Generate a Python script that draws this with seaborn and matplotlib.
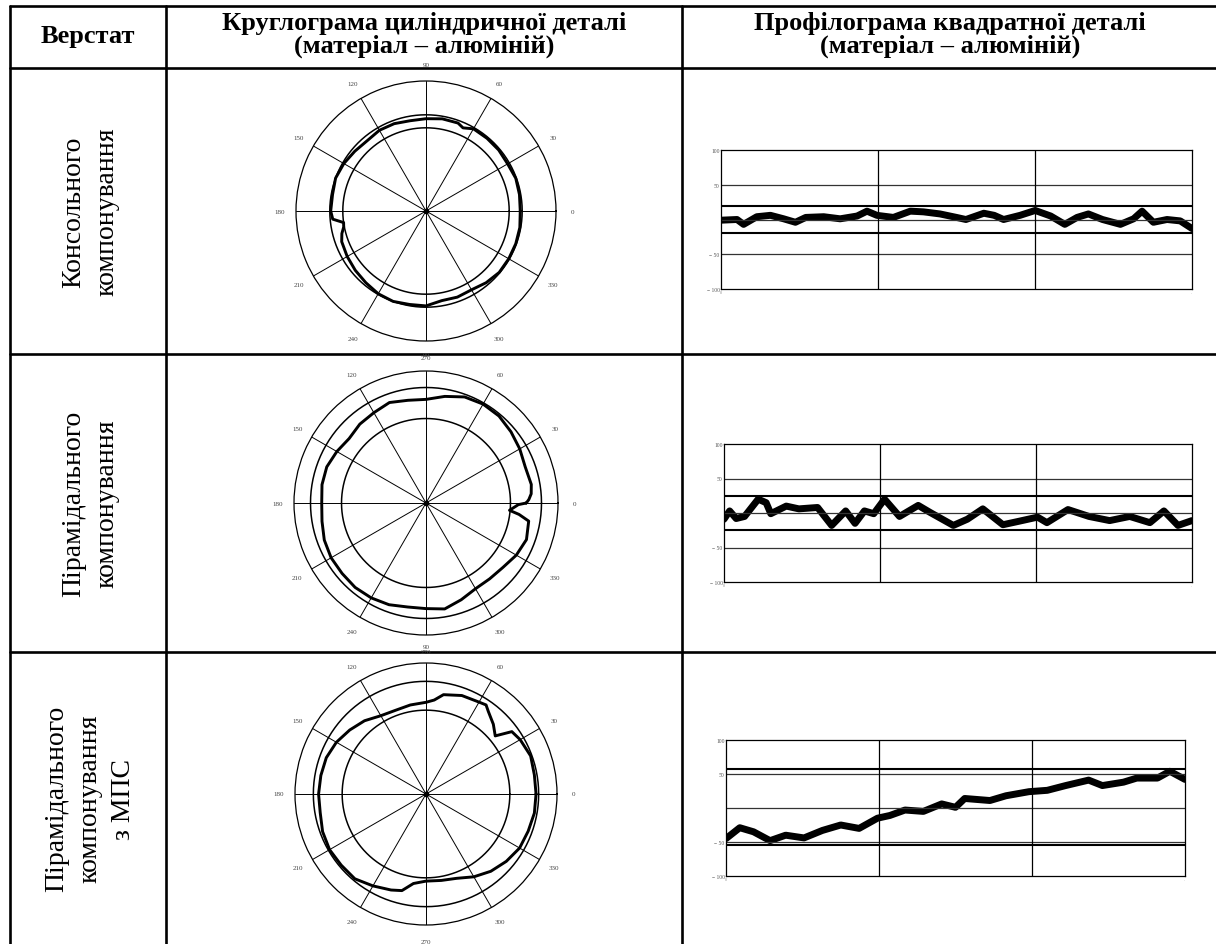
import numpy as np
import pandas as pd
import seaborn as sns
import matplotlib.pyplot as plt

sns.set_theme(style='white')
plt.rcParams['font.family'] = ['Liberation Serif', 'DejaVu Serif']
plt.rcParams['text.color'] = 'black'

W, H = 1216, 945

# header and row labels
header_machine = 'Верстат'
header_round = 'Круглограма циліндричної деталі\n(матеріал – алюміній)'
header_profile = 'Профілограма квадратної деталі\n(матеріал – алюміній)'
machines = ['Консольного\nкомпонування',
            'Пірамідального\nкомпонування',
            'Пірамідального\nкомпонування\nз МПС']

# roundness traces: angle (deg) and radius relative to the outer circle
round1_deg = [0, 10, 20, 30, 40, 50, 60, 66, 70, 80, 90, 100, 110, 120, 130, 140,
              150, 160, 170, 180, 185, 188, 191, 195, 200, 210, 220, 230, 240, 250,
              260, 270, 280, 290, 300, 310, 320, 330, 340, 350, 360]
round1_r = [0.725, 0.73, 0.735, 0.725, 0.73, 0.73, 0.73, 0.70, 0.72, 0.72, 0.71, 0.705,
            0.715, 0.717, 0.705, 0.715, 0.73, 0.74, 0.73, 0.733, 0.72, 0.64, 0.645,
            0.67, 0.69, 0.70, 0.71, 0.72, 0.735, 0.74, 0.73, 0.73, 0.70, 0.705, 0.70,
            0.72, 0.735, 0.735, 0.735, 0.733, 0.725]

round2_deg = [0, 2, 5, 10, 20, 30, 40, 50, 60, 70, 80, 90, 100, 110, 120, 130, 140,
              150, 160, 170, 180, 190, 200, 210, 220, 230, 240, 250, 260, 270, 280,
              290, 300, 310, 320, 330, 340, 350, 353, 355, 359, 360]
round2_r = [0.76, 0.78, 0.80, 0.81, 0.80, 0.82, 0.84, 0.86, 0.865, 0.855, 0.82, 0.785,
            0.79, 0.81, 0.79, 0.78, 0.76, 0.78, 0.80, 0.80, 0.79, 0.80, 0.82, 0.83,
            0.83, 0.835, 0.83, 0.82, 0.80, 0.80, 0.815, 0.78, 0.75, 0.75, 0.76, 0.79,
            0.81, 0.79, 0.71, 0.635, 0.70, 0.76]

round3_deg = [0, 10, 20, 30, 36, 40, 46, 53, 56, 60, 70, 80, 85, 90, 100, 110, 120,
              130, 140, 150, 160, 170, 180, 190, 200, 210, 220, 230, 240, 250, 256,
              262, 270, 280, 290, 300, 310, 320, 330, 340, 350, 360]
round3_r = [0.84, 0.84, 0.85, 0.83, 0.81, 0.69, 0.74, 0.79, 0.82, 0.81, 0.80, 0.77,
            0.72, 0.70, 0.69, 0.68, 0.69, 0.73, 0.76, 0.79, 0.81, 0.815, 0.82, 0.82,
            0.84, 0.85, 0.845, 0.845, 0.81, 0.78, 0.76, 0.69, 0.665, 0.67, 0.685,
            0.73, 0.77, 0.80, 0.825, 0.83, 0.84, 0.84]

# inscribed / circumscribed circles
round_inner = [0.64, 0.64, 0.64]
round_outer = [0.74, 0.875, 0.86]

# profile traces: relative position along the part and deviation
prof1_x = [0, 0.034, 0.048, 0.076, 0.105, 0.133, 0.158, 0.18, 0.218, 0.253, 0.289,
           0.31, 0.331, 0.366, 0.402, 0.43, 0.465, 0.5, 0.52, 0.558, 0.58, 0.6,
           0.635, 0.667, 0.7, 0.73, 0.756, 0.78, 0.81, 0.848, 0.876, 0.894, 0.918,
           0.947, 0.975, 1.0]
prof1_y = [-1, 0, -7, 4, 6, 1, -4, 3, 4, 1, 5, 12, 6, 3, 12, 11, 8, 3, 0, 9, 6, 0,
           6, 13, 5, -7, 3, 8, 0, -7, 1, 12, -4, 0, -2, -13]

prof2_x = [0, 0.012, 0.026, 0.044, 0.073, 0.09, 0.10, 0.133, 0.16, 0.2, 0.23, 0.26,
           0.28, 0.30, 0.32, 0.343, 0.375, 0.415, 0.44, 0.49, 0.52, 0.553, 0.596,
           0.63, 0.67, 0.69, 0.735, 0.78, 0.824, 0.867, 0.91, 0.94, 0.97, 1.0]
prof2_y = [-9, 3, -8, -5, 20, 15, -1, 10, 6, 8, -18, 3, -15, 3, -1, 20, -5, 11, 1,
           -18, -9, 6, -17, -12, -6, -14, 5, -5, -11, -5, -14, 3, -18, -11]

prof3_x = [0, 0.03, 0.06, 0.096, 0.13, 0.17, 0.21, 0.25, 0.29, 0.33, 0.357, 0.39,
           0.43, 0.47, 0.50, 0.52, 0.575, 0.61, 0.66, 0.70, 0.74, 0.79, 0.82, 0.866,
           0.895, 0.94, 0.967, 1.0]
prof3_y = [-45, -29, -35, -48, -40, -44, -33, -25, -30, -15, -11, -3, -5, 6, 1, 14,
           11, 18, 24, 26, 33, 41, 33, 38, 44, 44, 54, 42]

prof_limits = [(20, -20), (25, -25), (57, -55)]

rounds = [(round1_deg, round1_r), (round2_deg, round2_r), (round3_deg, round3_r)]
profiles = [(prof1_x, prof1_y), (prof2_x, prof2_y), (prof3_x, prof3_y)]

# layout in pixels
row_lines = [69, 355, 653]
row_centers = [212, 504, 799]
polar_boxes = [(426, 212, 130), (426, 504, 132), (426, 795, 131)]
prof_boxes = [(721, 151, 1192, 290), (724, 445, 1192, 583), (726, 741, 1185, 877)]


def px_rect(left, top, right, bottom):
    return [left / W, 1 - bottom / H, (right - left) / W, (bottom - top) / H]


fig = plt.figure(figsize=(W / 100, H / 100), dpi=100)
fig.patch.set_facecolor('white')

# table grid
bg = fig.add_axes([0, 0, 1, 1], zorder=-1)
bg.set_xlim(0, W)
bg.set_ylim(H, 0)
bg.axis('off')
lw_tab = 1.9
bg.plot([10, W], [7, 7], color='black', lw=lw_tab)
for y in row_lines:
    bg.plot([10, W], [y, y], color='black', lw=lw_tab)
for x in [10, 166, 682]:
    bg.plot([x, x], [7, H], color='black', lw=lw_tab)

bg.text(88, 37, header_machine, ha='center', va='center', fontsize=19, fontweight='bold')
bg.text(424, 35, header_round, ha='center', va='center', fontsize=19,
        fontweight='bold', linespacing=0.93)
bg.text(950, 35, header_profile, ha='center', va='center', fontsize=19,
        fontweight='bold', linespacing=0.93)
for name, yc in zip(machines, row_centers):
    bg.text(90, yc, name, ha='center', va='center', rotation=90, fontsize=20,
            multialignment='center', linespacing=1.45)

# roundness charts
for (deg, r), (cx, cy, rad), r_in, r_out in zip(rounds, polar_boxes, round_inner, round_outer):
    ax = fig.add_axes(px_rect(cx - rad, cy - rad, cx + rad, cy + rad), projection='polar')
    ax.set_facecolor('none')
    theta = np.deg2rad(deg)
    sns.lineplot(x=theta, y=r, ax=ax, color='black', lw=2.1, sort=False, estimator=None)
    circ = np.linspace(0, 2 * np.pi, 361)
    for rr in (r_in, r_out):
        ax.plot(circ, np.full_like(circ, rr), color='black', lw=1.1)
    ax.plot([0], [0], 'o', color='black', ms=3)
    ax.set_ylim(0, 1)
    ax.set_yticks([])
    ax.set_xticks(np.deg2rad(np.arange(0, 360, 30)))
    ax.set_xticklabels([str(a) for a in range(0, 360, 30)], fontsize=5, color='#444444')
    ax.tick_params(axis='x', pad=-1)
    ax.xaxis.grid(True, color='black', lw=0.7)
    ax.spines['polar'].set_color('black')
    ax.spines['polar'].set_linewidth(0.9)
    ax.set_xlabel('')
    ax.set_ylabel('')

# profile charts
for (px, py), box, (lim_hi, lim_lo) in zip(profiles, prof_boxes, prof_limits):
    ax = fig.add_axes(px_rect(*box))
    ax.set_facecolor('white')
    sns.lineplot(x=px, y=py, ax=ax, color='black', lw=5, estimator=None,
                 solid_joinstyle='round', solid_capstyle='round')
    ax.set_xlim(0, 1)
    ax.set_ylim(-100, 100)
    for y in (50, 0, -50):
        ax.axhline(y, color='#333333', lw=0.9)
    for x in (1 / 3, 2 / 3):
        ax.axvline(x, color='black', lw=0.9)
    ax.axhline(lim_hi, color='black', lw=1.5)
    ax.axhline(lim_lo, color='black', lw=1.5)
    ax.set_yticks([-100, -50, 0, 50, 100])
    ax.set_yticklabels(['− 100', '− 50', '', '50', '100'], fontsize=4, color='#555555')
    ax.set_xticks([0, 0.5, 1])
    ax.set_xticklabels(['0', '', '..'], fontsize=3, color='#888888')
    ax.tick_params(length=0, pad=1)
    for s in ax.spines.values():
        s.set_color('black')
        s.set_linewidth(0.9)
    ax.set_xlabel('')
    ax.set_ylabel('')

fig.savefig('out.png', dpi=100, facecolor='white')
